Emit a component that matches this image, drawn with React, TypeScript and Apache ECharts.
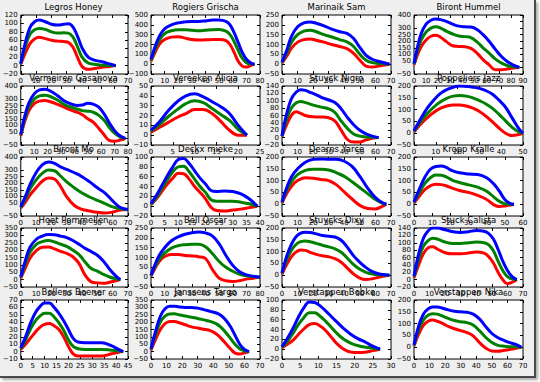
import React, { useEffect, useRef } from "react";
import * as echarts from "echarts";

// ---- panel titles and axis settings ----
const names = [
  "Legros Honey", "Rogiers Grischa", "Marinaik Sam", "Biront Hummel",
  "Vermeiren Gasanova", "Vereeken Alicia", "Stuyck Nigro", "Poppeliers Jazz",
  "Biront Mo", "Deckx mieke", "Dearns Yarce", "Kropp Kralle",
  "Hoet Pommellen", "Bell Oscar", "Stuycks Dixy", "Stuck Calista",
  "Bollens Boener", "Janssens Targo", "Verstappen Bobke", "Verstappen Nika",
];
const xMaxs = [70, 80, 70, 90, 80, 25, 70, 50, 70, 40, 70, 60, 70, 80, 70, 70, 45, 70, 30, 70];
const xSteps = [10, 10, 10, 10, 10, 5, 10, 10, 10, 5, 10, 10, 10, 10, 10, 10, 5, 10, 5, 10];
const yMins = [-20, -100, -50, -50, -50, -10, -20, -50, -50, -20, -50, -50, -50, -50, -50, -20, -10, -50, -20, -50];
const yMaxs = [120, 500, 250, 400, 400, 50, 140, 200, 400, 100, 200, 200, 350, 250, 200, 140, 70, 350, 100, 200];
const ySteps = [20, 100, 50, 50, 50, 10, 20, 50, 50, 20, 50, 50, 50, 50, 50, 20, 10, 50, 20, 50];

// ---- data (x samples, red, green, blue) ----
const xs1 = [0, 3, 6, 9, 12, 16, 20, 24, 28, 31, 34, 37, 40, 44, 48, 53, 58, 62];
const blue1 = [5, 55, 90, 104, 108, 104, 98, 96, 98, 99, 92, 70, 42, 20, 13, 9, 4, 0];
const green1 = [4, 45, 74, 85, 88, 86, 80, 77, 78, 77, 68, 45, 20, 6, 3, 1, 0, 0];
const red1 = [3, 30, 52, 63, 67, 64, 60, 58, 57, 55, 44, 20, -2, -9, -7, -4, -2, 0];

const xs2 = [0, 3, 6, 10, 15, 20, 25, 30, 35, 40, 45, 50, 55, 58, 61, 64, 67, 70, 73, 76];
const blue2 = [50, 180, 280, 360, 400, 420, 430, 435, 435, 440, 448, 450, 435, 400, 320, 220, 120, 50, 15, 0];
const green2 = [40, 150, 240, 310, 340, 350, 350, 345, 340, 345, 350, 352, 335, 300, 230, 140, 60, 15, 3, 0];
const red2 = [30, 120, 200, 250, 275, 280, 265, 250, 245, 248, 250, 252, 240, 200, 120, 30, -20, -30, -15, 0];

const xs3 = [0, 3, 6, 10, 14, 18, 22, 27, 32, 37, 42, 46, 50, 54, 58, 63, 69];
const blue3 = [10, 70, 140, 190, 210, 215, 208, 195, 178, 165, 155, 130, 85, 45, 25, 12, 0];
const green3 = [8, 55, 110, 150, 168, 172, 165, 150, 138, 125, 112, 90, 50, 20, 8, 3, 0];
const red3 = [5, 40, 80, 112, 125, 128, 122, 112, 100, 90, 78, 55, 20, -10, -15, -8, 0];

const xs4 = [0, 3, 6, 10, 14, 18, 22, 27, 32, 37, 42, 47, 52, 57, 62, 67, 72, 77, 82, 87];
const blue4 = [30, 160, 260, 330, 360, 370, 365, 350, 330, 315, 310, 308, 290, 250, 200, 140, 85, 45, 18, 0];
const green4 = [25, 130, 210, 270, 300, 310, 300, 275, 255, 240, 235, 228, 195, 150, 110, 65, 35, 15, 5, 0];
const red4 = [20, 100, 160, 210, 238, 245, 230, 195, 165, 160, 158, 145, 110, 60, 20, -18, -18, -12, -5, 0];

const xs5 = [0, 3, 6, 10, 14, 18, 22, 27, 32, 37, 42, 46, 50, 54, 58, 62, 66, 70, 74, 78];
const blue5 = [30, 170, 270, 340, 370, 375, 362, 330, 290, 265, 252, 255, 268, 262, 240, 190, 120, 60, 20, 0];
const green5 = [25, 150, 240, 300, 325, 330, 320, 295, 262, 240, 225, 212, 208, 200, 178, 140, 85, 40, 12, 0];
const red5 = [20, 130, 210, 265, 285, 290, 280, 262, 240, 218, 200, 180, 150, 125, 80, 30, -15, -22, -12, 0];

const xs6 = [0, 2, 4, 6, 8, 10, 12, 14, 16, 18, 20, 22];
const blue6 = [5, 14, 25, 34, 40, 42, 39, 34, 29, 22, 10, 0];
const green6 = [4, 11, 19, 26, 32, 35, 33, 27, 21, 15, 6, 0];
const red6 = [3, 8, 13, 18, 22, 26, 26, 22, 14, 5, 0, 0];

const xs7 = [0, 3, 6, 9, 12, 15, 18, 22, 26, 30, 34, 38, 42, 46, 50, 54, 58, 62];
const blue7 = [5, 65, 105, 123, 130, 128, 123, 116, 108, 102, 95, 78, 55, 35, 20, 10, 4, 0];
const green7 = [4, 50, 80, 94, 98, 95, 91, 86, 82, 78, 68, 45, 25, 10, 4, 2, 1, 0];
const red7 = [3, 35, 60, 70, 66, 60, 57, 56, 56, 54, 45, 20, -5, -12, -12, -6, -2, 0];

const xs8 = [0, 3, 6, 9, 12, 15, 18, 21, 24, 27, 30, 33, 36, 39, 42, 45, 48, 50];
const blue8 = [10, 60, 105, 140, 168, 185, 195, 200, 198, 195, 190, 180, 165, 140, 110, 65, 20, 0];
const green8 = [8, 48, 82, 110, 132, 148, 157, 160, 157, 150, 138, 124, 105, 80, 52, 25, 6, 0];
const red8 = [5, 38, 65, 88, 105, 115, 120, 120, 115, 106, 92, 72, 48, 22, 0, -10, -6, 0];

const xs9 = [0, 3, 6, 10, 14, 18, 22, 26, 30, 35, 40, 45, 50, 55, 60, 65, 70];
const blue9 = [20, 100, 190, 280, 340, 362, 352, 325, 305, 280, 250, 210, 165, 125, 65, 15, 0];
const green9 = [15, 80, 155, 225, 275, 300, 295, 255, 210, 165, 125, 95, 70, 45, 20, 5, 0];
const red9 = [10, 55, 110, 165, 215, 240, 232, 175, 95, 30, 0, -12, -22, -28, -20, -5, 0];

const xs10 = [0, 2, 4, 6, 8, 10, 12, 14, 16, 18, 20, 22, 24, 27, 30, 33, 36, 39];
const blue10 = [5, 22, 42, 62, 80, 95, 97, 87, 72, 57, 45, 32, 30, 31, 30, 25, 15, 0];
const green10 = [4, 18, 36, 54, 70, 80, 81, 70, 55, 40, 28, 13, 10, 10, 10, 8, 5, 0];
const red10 = [3, 15, 30, 45, 57, 67, 66, 55, 40, 28, 15, -2, -9, -10, -8, -6, -3, 0];

const xs11 = [0, 3, 6, 10, 15, 20, 25, 30, 35, 40, 45, 50, 55, 60, 64, 67];
const blue11 = [10, 70, 115, 150, 178, 190, 192, 190, 190, 182, 160, 118, 68, 28, 8, 0];
const green11 = [8, 60, 95, 125, 143, 148, 148, 145, 133, 118, 95, 70, 45, 20, 6, 0];
const red11 = [5, 45, 75, 100, 112, 110, 105, 100, 82, 52, 22, -5, -18, -20, -10, 0];

const xs12 = [0, 3, 6, 9, 12, 15, 18, 21, 25, 30, 35, 40, 44, 47, 50, 53, 55];
const blue12 = [10, 65, 115, 148, 160, 162, 155, 142, 133, 128, 126, 112, 85, 55, 20, 3, 0];
const green12 = [8, 50, 88, 112, 124, 123, 115, 102, 92, 82, 72, 55, 30, 12, 2, 0, 0];
const red12 = [5, 35, 62, 78, 85, 83, 77, 68, 58, 50, 37, 20, -3, -10, -8, -3, 0];

const xs13 = [0, 3, 6, 10, 14, 18, 22, 26, 30, 34, 38, 42, 46, 50, 54, 58, 62, 65];
const blue13 = [20, 130, 220, 272, 295, 306, 305, 295, 285, 265, 240, 212, 190, 165, 125, 70, 25, 0];
const green13 = [15, 110, 185, 238, 258, 265, 255, 240, 225, 200, 170, 120, 75, 58, 35, 18, 6, 0];
const red13 = [10, 80, 145, 195, 220, 222, 208, 192, 178, 155, 110, 30, -15, -22, -25, -18, -8, 0];

const xs14 = [0, 3, 6, 10, 15, 20, 25, 30, 35, 40, 45, 50, 55, 60, 65, 70, 75, 80];
const blue14 = [10, 65, 110, 150, 185, 205, 218, 226, 230, 225, 210, 170, 110, 60, 28, 12, 5, 0];
const green14 = [8, 55, 90, 122, 148, 160, 165, 167, 167, 155, 120, 80, 50, 30, 15, 7, 3, 0];
const red14 = [5, 45, 80, 105, 115, 115, 110, 108, 104, 95, 40, -5, -18, -22, -18, -10, -5, 0];

const xs15 = [0, 3, 6, 9, 12, 15, 18, 22, 26, 30, 34, 38, 42, 46, 50, 54, 58, 62, 66, 69];
const blue15 = [10, 80, 130, 163, 178, 182, 181, 175, 168, 165, 162, 148, 118, 82, 55, 32, 15, 6, 2, 0];
const green15 = [8, 65, 105, 130, 142, 145, 142, 135, 127, 120, 112, 97, 72, 45, 25, 12, 5, 2, 1, 0];
const red15 = [5, 45, 78, 98, 107, 105, 97, 88, 82, 78, 70, 55, 30, 5, -12, -18, -15, -9, -3, 0];

const xs16 = [0, 3, 6, 9, 12, 15, 20, 25, 30, 35, 40, 45, 48, 51, 54, 57, 60, 63, 66];
const blue16 = [10, 70, 112, 132, 140, 140, 135, 130, 128, 130, 133, 131, 125, 110, 82, 50, 25, 8, 0];
const green16 = [8, 55, 90, 106, 112, 110, 102, 98, 98, 100, 102, 100, 94, 78, 50, 25, 8, 2, 0];
const red16 = [5, 40, 70, 86, 89, 83, 73, 70, 70, 72, 75, 72, 62, 45, 20, 0, -11, -7, 0];

const xs17 = [0, 2, 4, 6, 8, 10, 12, 14, 16, 18, 20, 22, 24, 27, 30, 34, 38, 41, 43];
const blue17 = [5, 20, 38, 52, 61, 66, 66, 60, 52, 42, 30, 18, 13, 12, 12, 12, 8, 3, 0];
const green17 = [4, 16, 30, 41, 48, 52, 52, 47, 39, 29, 16, 7, 4, 3, 3, 3, 2, 1, 0];
const red17 = [3, 10, 18, 26, 33, 37, 38, 35, 30, 20, 7, -3, -6, -6, -6, -6, -3, -1, 0];

const xs18 = [0, 3, 6, 9, 12, 15, 18, 22, 26, 30, 34, 38, 42, 45, 48, 51, 54, 57, 60, 63];
const blue18 = [20, 140, 240, 290, 308, 308, 303, 300, 300, 295, 285, 273, 262, 245, 215, 170, 110, 50, 15, 0];
const green18 = [15, 120, 200, 240, 255, 256, 250, 242, 233, 225, 215, 205, 188, 165, 130, 90, 50, 20, 5, 0];
const red18 = [10, 85, 150, 190, 205, 204, 196, 182, 168, 160, 152, 142, 120, 90, 55, 20, -10, -16, -8, 0];

const xs19 = [0, 1.5, 3, 4.5, 6, 7.5, 9, 10.5, 12, 13.5, 15, 17, 19, 21, 23, 25, 27];
const blue19 = [5, 22, 42, 65, 84, 96, 95, 88, 78, 67, 56, 42, 30, 21, 14, 6, 0];
const green19 = [4, 16, 32, 50, 64, 74, 74, 67, 57, 45, 33, 20, 12, 7, 4, 2, 0];
const red19 = [3, 10, 18, 30, 41, 50, 52, 47, 38, 25, 12, 0, -6, -7, -6, -3, 0];

const xs20 = [0, 3, 6, 9, 12, 15, 18, 22, 26, 30, 34, 38, 42, 46, 50, 54, 58, 62, 66, 69];
const blue20 = [10, 90, 140, 162, 170, 170, 166, 158, 152, 150, 148, 140, 120, 88, 58, 40, 28, 18, 10, 0];
const green20 = [8, 75, 115, 135, 142, 140, 133, 122, 113, 108, 104, 94, 70, 42, 20, 8, 4, 2, 1, 0];
const red20 = [5, 55, 92, 110, 115, 110, 102, 88, 78, 70, 62, 48, 20, -3, -16, -17, -13, -9, -4, 0];

const panelData = [
  [xs1, red1, green1, blue1], [xs2, red2, green2, blue2], [xs3, red3, green3, blue3], [xs4, red4, green4, blue4],
  [xs5, red5, green5, blue5], [xs6, red6, green6, blue6], [xs7, red7, green7, blue7], [xs8, red8, green8, blue8],
  [xs9, red9, green9, blue9], [xs10, red10, green10, blue10], [xs11, red11, green11, blue11], [xs12, red12, green12, blue12],
  [xs13, red13, green13, blue13], [xs14, red14, green14, blue14], [xs15, red15, green15, blue15], [xs16, red16, green16, blue16],
  [xs17, red17, green17, blue17], [xs18, red18, green18, blue18], [xs19, red19, green19, blue19], [xs20, red20, green20, blue20],
];

const lineColors = ["#ff0000", "#008000", "#0000ff"];

// ---- layout ----
const LEFTS = [19, 151, 282, 414];
const TOPS = [15, 86, 157, 228, 300];
const PW = 109;
const PH = 59;
const FONT = "DejaVu Sans";

function buildOption() {
  const grid: any[] = [];
  const xAxis: any[] = [];
  const yAxis: any[] = [];
  const series: any[] = [];
  const graphic: any[] = [];
  names.forEach((name, i) => {
    const col = i % 4;
    const row = Math.floor(i / 4);
    const left = LEFTS[col];
    const top = TOPS[row];
    grid.push({
      left, top, width: PW, height: PH,
      show: true, backgroundColor: "#ffffff", borderColor: "#000000", borderWidth: 1,
      containLabel: false,
    });
    const tick = { show: true, inside: true, length: 3, lineStyle: { color: "#000", width: 1 } };
    const xBase = {
      type: "value", gridIndex: i, min: 0, max: xMaxs[i], interval: xSteps[i],
      splitLine: { show: false }, axisLine: { show: false, onZero: false }, axisTick: tick,
    };
    xAxis.push({
      ...xBase, position: "bottom",
      axisLabel: { show: true, fontSize: 7, fontFamily: FONT, color: "#000", margin: 3, showMinLabel: true, showMaxLabel: true },
    });
    xAxis.push({ ...xBase, position: "top", axisLabel: { show: false } });
    const yBase = {
      type: "value", gridIndex: i, min: yMins[i], max: yMaxs[i], interval: ySteps[i],
      splitLine: { show: false }, axisLine: { show: false, onZero: false }, axisTick: tick,
    };
    yAxis.push({
      ...yBase, position: "left",
      axisLabel: {
        show: true, fontSize: 7, fontFamily: FONT, color: "#000", margin: 3, showMinLabel: true, showMaxLabel: true,
        formatter: (v: number) => (v < 0 ? "\u2212" + Math.abs(v) : String(v)),
      },
    });
    yAxis.push({ ...yBase, position: "right", axisLabel: { show: false } });
    const [xs, r, g, b] = panelData[i];
    [r, g, b].forEach((ys, k) => {
      series.push({
        type: "line",
        xAxisIndex: 2 * i,
        yAxisIndex: 2 * i,
        data: xs.map((x, j) => [x, ys[j]]),
        showSymbol: false,
        smooth: 0.4,
        lineStyle: { color: lineColors[k], width: 3 },
        itemStyle: { color: lineColors[k] },
        z: 2 + k,
      });
    });
    graphic.push({
      type: "text",
      x: left + PW / 2,
      y: top - 8,
      style: { text: name, fontSize: 8.5, fontFamily: FONT, fill: "#000", align: "center", verticalAlign: "middle" },
      z: 100,
    });
  });
  return {
    animation: false,
    grid, xAxis, yAxis, series, graphic,
  };
}

export default function App() {
  const ref = useRef<HTMLDivElement>(null);
  useEffect(() => {
    if (!ref.current) return;
    const chart = echarts.init(ref.current, undefined, { renderer: "svg" });
    chart.setOption(buildOption());
    return () => chart.dispose();
  }, []);
  return (
    <div style={{ position: "fixed", left: 0, top: 0, width: 540, height: 382, background: "#ffffff", overflow: "hidden" }}>
      <div
        style={{
          position: "absolute", left: 0, top: 0, width: 534, height: 376,
          background: "#efefef", borderRight: "2px solid #4a4a4a", borderBottom: "2px solid #4a4a4a",
          boxShadow: "2px 2px 3px rgba(0,0,0,0.35)",
        }}
      />
      <div ref={ref} style={{ position: "absolute", left: 0, top: 0, width: 540, height: 382 }} />
    </div>
  );
}
